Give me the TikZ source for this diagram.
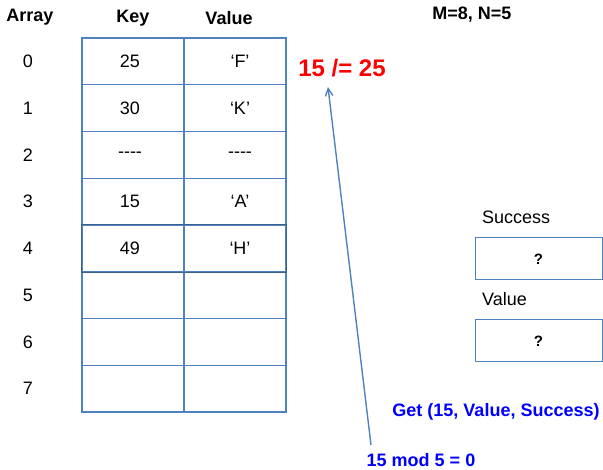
\documentclass[tikz,border=0pt]{standalone}
\usepackage{fontspec}
\setmainfont{Liberation Sans}
\usetikzlibrary{arrows.meta}
\definecolor{cellblue}{RGB}{79,129,189}

\begin{document}
\begin{tikzpicture}[x=1pt, y=-1pt, every node/.style={font=\fontsize{18}{21}\selectfont, inner sep=0pt},
	cell/.style={draw=cellblue, line width=1.2pt, minimum width=102pt, minimum height=46.75pt},
	outbox/.style={draw=cellblue, line width=1pt, minimum width=127pt, minimum height=42pt, font=\fontsize{15}{18}\selectfont\bfseries},
	head/.style={font=\fontsize{18}{21}\selectfont\bfseries},
	note/.style={font=\fontsize{18}{21}\selectfont\bfseries, text=blue},
	>={Straight Barb[length=2.6mm, width=2.6mm]}]
	\useasboundingbox (0,0) rectangle (603,470);
	\node[head] (array) at (30,17) {Array};
	\node[head] (keyhead) at (133,18) {Key};
	\node[head] (valhead) at (229,18) {Value};
	\node[head] (mn) at (472,15) {M=8, N=5};
	\foreach \i/\k/\v in {0/25/`F',1/30/`K',2/-{}-{}-{}-/-{}-{}-{}-,3/15/`A',4/49/`H',5//,6//,7//} {
		\node (idx\i) at (28,{61.4+46.75*\i}) {\i};
		\node[cell] (key\i) at (133,{61.4+46.75*\i}) {\k\hspace*{6pt}};
		\node[cell] (val\i) at (235,{61.4+46.75*\i}) {\hspace*{10pt}\v};
	}
	\draw[cellblue!75!black, line width=1.2pt] (key4.north west) rectangle (val4.south east);
	\node[font=\fontsize{24}{28}\selectfont\bfseries, text=red] (neq) at (342,68) {15 /= 25};
	\node[anchor=west] (succlab) at (482,217) {Success};
	\node[outbox] (succ) at (538.5,259) {?};
	\node[anchor=west] (vallab) at (482,299) {Value};
	\node[outbox] (valout) at (538.5,341) {?};
	\node[note] (get) at (496,412) {Get (15, Value, Success)};
	\node[note] (hash) at (421,460) {15 mod 5 = 0};
	\coordinate (from) at (371,445);
	\coordinate (tip) at (328,87);
	\draw[->, cellblue, line width=1.4pt] (from) -- (tip);
\end{tikzpicture}
\end{document}
